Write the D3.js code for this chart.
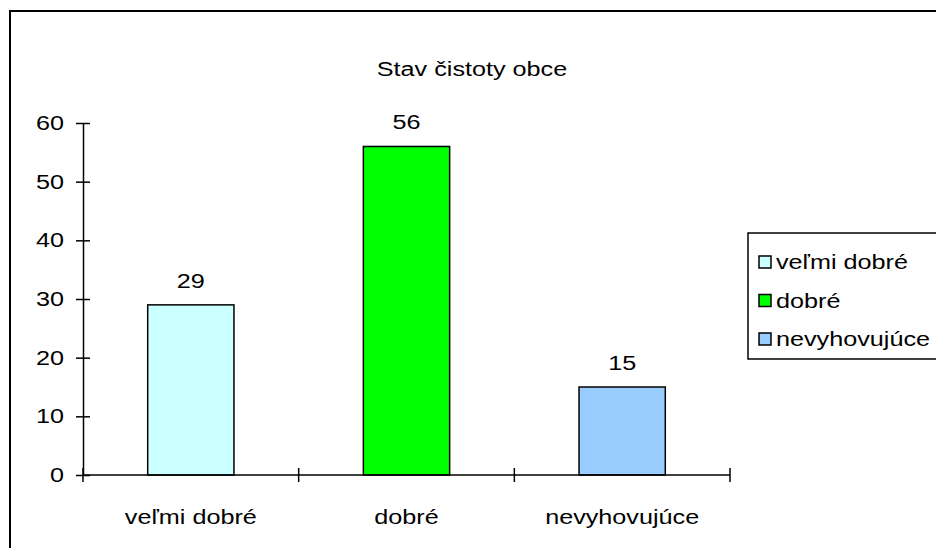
<!DOCTYPE html>
<html>
<head>
<meta charset="utf-8">
<script src="https://cdn.jsdelivr.net/npm/d3@7"></script>
<style>
  body { margin: 0; background: #fff; }
  text { font-family: "Liberation Sans", Arial, sans-serif; fill: #000; }
</style>
</head>
<body>
<svg width="936" height="548"></svg>
<script>
var categories = ["veľmi dobré", "dobré", "nevyhovujúce"],
    values = [29, 56, 15],
    colors = ["#ccffff", "#00ff00", "#99ccff"],
    yTicks = [0, 10, 20, 30, 40, 50, 60],
    title = "Stav čistoty obce";

var svg = d3.select("svg"),
    fs = 21, sx = 1.2;

// text in the original is stretched wide
function label(sel, x, y, anchor, str) {
  return sel.append("text")
      .attr("transform", "translate(" + x + "," + y + ") scale(" + sx + ",1)")
      .attr("text-anchor", anchor)
      .style("font-size", fs + "px")
      .text(str);
}

svg.append("rect")
    .attr("x", 10).attr("y", 11)
    .attr("width", 940).attr("height", 560)
    .attr("fill", "#fff").attr("stroke", "#000").attr("stroke-width", 2);

var x = d3.scaleBand().domain(categories).range([83, 730]).paddingInner(0.6).paddingOuter(0.3),
    y = d3.scaleLinear().domain([0, 60]).range([475, 123]);

label(svg, 472, 76, "middle", title);

// bars
svg.selectAll(".bar")
  .data(values)
  .enter().append("rect")
    .attr("class", "bar")
    .attr("x", function(d, i) { return x(categories[i]); })
    .attr("y", function(d) { return y(d); })
    .attr("width", x.bandwidth())
    .attr("height", function(d) { return y(0) - y(d); })
    .attr("fill", function(d, i) { return colors[i]; })
    .attr("stroke", "#000").attr("stroke-width", 1.5);

values.forEach(function(d, i) {
  label(svg, x(categories[i]) + x.bandwidth() / 2, y(d) - 17, "middle", d);
});

// y axis
var gy = svg.append("g")
    .attr("transform", "translate(83,0)")
    .call(d3.axisLeft(y).tickValues(yTicks).tickSize(0).tickPadding(0));
gy.select(".domain").attr("stroke", "#000").attr("stroke-width", 1.5);
gy.selectAll(".tick text").remove();
gy.selectAll(".tick").append("line")
    .attr("x1", -7).attr("x2", 7).attr("stroke", "#000").attr("stroke-width", 1.5);
yTicks.forEach(function(t) {
  label(svg, 64, y(t) + 7, "end", t);
});

// x axis
var step = x.step(),
    bounds = d3.range(categories.length + 1).map(function(i) { return x.range()[0] + i * step; });
svg.append("line")
    .attr("x1", x.range()[0]).attr("x2", x.range()[1])
    .attr("y1", y(0)).attr("y2", y(0))
    .attr("stroke", "#000").attr("stroke-width", 1.5);
svg.selectAll(".xtick")
  .data(bounds)
  .enter().append("line")
    .attr("class", "xtick")
    .attr("x1", function(d) { return d; }).attr("x2", function(d) { return d; })
    .attr("y1", y(0) - 7).attr("y2", y(0) + 7)
    .attr("stroke", "#000").attr("stroke-width", 1.5);
categories.forEach(function(c) {
  label(svg, x(c) + x.bandwidth() / 2, 524, "middle", c);
});

// legend
var lg = svg.append("g").attr("transform", "translate(748,233)");
lg.append("rect")
    .attr("width", 220).attr("height", 126)
    .attr("fill", "#fff").attr("stroke", "#000").attr("stroke-width", 1.5);
categories.forEach(function(c, i) {
  var cy = 29 + i * 38.5;
  lg.append("rect")
      .attr("x", 11).attr("y", cy - 6)
      .attr("width", 12).attr("height", 12)
      .attr("fill", colors[i]).attr("stroke", "#000").attr("stroke-width", 1.5);
  label(lg, 28, cy + 7, "start", c);
});
</script>
</body>
</html>
